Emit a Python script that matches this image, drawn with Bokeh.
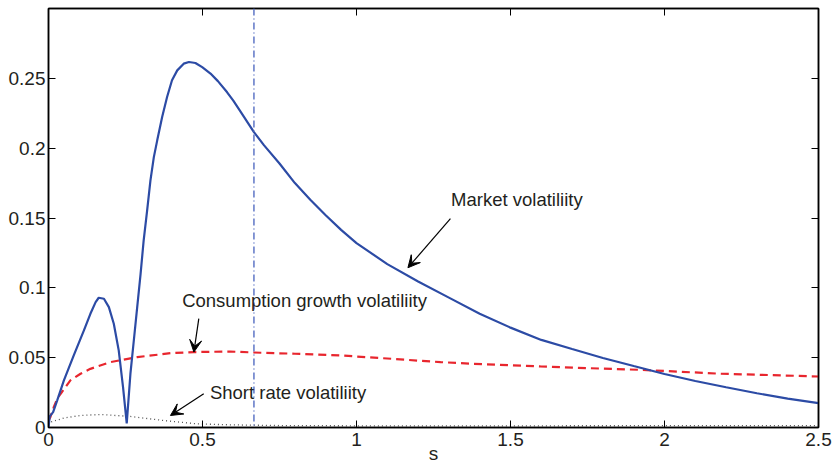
from bokeh.plotting import figure
from bokeh.models import Range1d, LinearAxis, FixedTicker, Span, Label, Arrow, VeeHead
from bokeh.embed import file_html
from bokeh.resources import INLINE

# ---- data ----
market_s = [0, 0.004, 0.015, 0.028, 0.050, 0.082, 0.115, 0.136, 0.153, 0.163, 0.180, 0.196, 0.212,
            0.228, 0.242, 0.254, 0.266, 0.277, 0.288, 0.299, 0.309, 0.320, 0.331, 0.342, 0.353, 0.369,
            0.385, 0.401, 0.418, 0.439, 0.456, 0.477, 0.499, 0.526, 0.55, 0.58, 0.6, 0.623, 0.667,
            0.7, 0.75, 0.8, 0.85, 0.9, 0.95, 1.0, 1.1, 1.2, 1.3, 1.4, 1.5, 1.6, 1.7, 1.8, 1.9,
            2.0, 2.1, 2.2, 2.3, 2.4, 2.5]
market_v = [0, 0.008, 0.011, 0.0193, 0.0337, 0.0516, 0.0695, 0.0814, 0.0898, 0.0929, 0.0922, 0.0862,
            0.0743, 0.0552, 0.0289, 0.003, 0.0385, 0.0623, 0.0862, 0.110, 0.134, 0.155, 0.177, 0.1936,
            0.2056, 0.2223, 0.2366, 0.2486, 0.2557, 0.2605, 0.2617, 0.261, 0.258, 0.2534, 0.248, 0.240,
            0.234, 0.2264, 0.2115, 0.202, 0.189, 0.175, 0.163, 0.152, 0.1415, 0.132, 0.117, 0.1045,
            0.093, 0.0815, 0.0715, 0.0627, 0.0562, 0.0498, 0.0440, 0.0383, 0.0333, 0.0288, 0.0245,
            0.0207, 0.0175]

cons_s = [0, 0.006, 0.017, 0.028, 0.039, 0.071, 0.104, 0.136, 0.2, 0.288, 0.396, 0.472, 0.59, 0.667,
          0.8, 0.948, 1.1, 1.273, 1.42, 1.597, 1.75, 1.922, 2.182, 2.35, 2.5]
cons_v = [0.005, 0.0074, 0.0145, 0.0205, 0.024, 0.0337, 0.0385, 0.042, 0.0468, 0.0504, 0.0532, 0.054,
          0.0544, 0.0537, 0.0528, 0.0516, 0.0494, 0.0468, 0.0452, 0.0437, 0.0425, 0.0413, 0.0385,
          0.0375, 0.0365]

short_s = [0, 0.006, 0.05, 0.104, 0.169, 0.266, 0.374, 0.483, 0.59, 0.75, 1.0, 1.5, 2.0, 2.5]
short_v = [0.002, 0.0038, 0.0068, 0.0086, 0.0093, 0.0079, 0.005, 0.0026, 0.0019, 0.0014, 0.0012,
           0.0012, 0.0013, 0.0014]

vline_s = 0.667

x_ticks = [0, 0.5, 1, 1.5, 2, 2.5]
x_tick_labels = ["0", "0.5", "1", "1.5", "2", "2.5"]
y_ticks = [0, 0.05, 0.1, 0.15, 0.2, 0.25]
y_tick_labels = ["0", "0.05", "0.1", "0.15", "0.2", "0.25"]
x_label = "s"

label_texts = ["Market volatiliity", "Consumption growth volatiliity", "Short rate volatiliity"]
label_s = [1.307, 0.434, 0.524]
label_v = [0.1631, 0.091, 0.0253]
arrow_tail_s = [1.305, 0.488, 0.504]
arrow_tail_v = [0.1495, 0.0779, 0.0241]
arrow_tip_s = [1.167, 0.472, 0.396]
arrow_tip_v = [0.1144, 0.0540, 0.0086]

FONT = "Liberation Sans"
TXT = "#231f20"

p = figure(width=834, height=469, output_backend="svg", toolbar_location=None,
           x_range=Range1d(0, 2.5), y_range=Range1d(0, 0.3),
           min_border_left=48, min_border_right=16, min_border_top=8, min_border_bottom=42)
p.grid.visible = False
p.outline_line_color = "black"
p.outline_line_width = 1.5
p.background_fill_color = "white"
p.border_fill_color = "white"


def style_axis(ax, ticks, labels, show_labels):
    ax.ticker = FixedTicker(ticks=ticks)
    ax.major_tick_in = 7
    ax.major_tick_out = 0
    ax.minor_tick_in = 0
    ax.minor_tick_out = 0
    ax.major_tick_line_color = "black"
    ax.major_tick_line_width = 1
    ax.axis_line_color = "black"
    ax.axis_line_width = 1.5
    if show_labels:
        ax.major_label_overrides = {t: l for t, l in zip(ticks, labels)}
        ax.major_label_text_font = FONT
        ax.major_label_text_font_size = "19px"
        ax.major_label_text_color = TXT
    else:
        ax.major_label_overrides = {t: "" for t in ticks}
        ax.major_label_text_font_size = "1px"
        ax.major_label_standoff = 0


xa = p.xaxis[0]
ya = p.yaxis[0]
style_axis(xa, x_ticks, x_tick_labels, True)
style_axis(ya, y_ticks, y_tick_labels, True)
xa.major_label_standoff = 5
ya.major_label_standoff = 3
xa.axis_label = x_label
xa.axis_label_text_font = FONT
xa.axis_label_text_font_size = "19px"
xa.axis_label_text_font_style = "normal"
xa.axis_label_text_color = TXT
xa.axis_label_standoff = -6

top = LinearAxis()
right = LinearAxis()
style_axis(top, x_ticks, x_tick_labels, False)
style_axis(right, y_ticks, y_tick_labels, False)
p.add_layout(top, "above")
p.add_layout(right, "right")

p.add_layout(Span(location=vline_s, dimension="height", line_color="#5f76c6",
                  line_width=1.5, line_dash="7 3 1 3"))

p.line(short_s, short_v, line_color="#505050", line_width=1.3, line_dash="1 3")
p.line(cons_s, cons_v, line_color="#e8262e", line_width=2.2, line_dash="8 5")
p.line(market_s, market_v, line_color="#2c4ba5", line_width=2.2)

for t, s, v in zip(label_texts, label_s, label_v):
    p.add_layout(Label(x=s, y=v, text=t, text_font=FONT, text_font_size="18.5px",
                       text_color=TXT, text_align="left", text_baseline="middle"))

for ts, tv, hs, hv in zip(arrow_tail_s, arrow_tail_v, arrow_tip_s, arrow_tip_v):
    p.add_layout(Arrow(x_start=ts, y_start=tv, x_end=hs, y_end=hv, line_color="black",
                       line_width=1.2,
                       end=VeeHead(size=12, fill_color="black", line_color="black", line_width=1)))

open("out.html", "w").write(file_html(p, INLINE))
